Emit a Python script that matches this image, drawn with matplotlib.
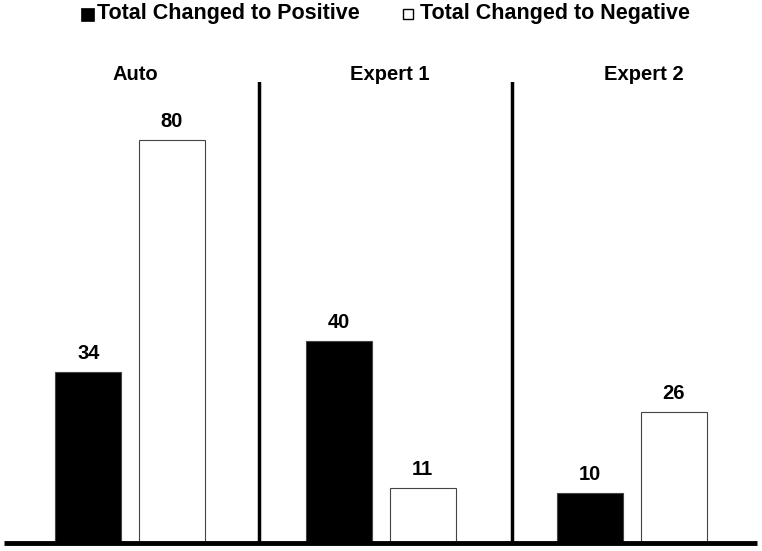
import matplotlib
matplotlib.use("Agg")
import matplotlib.pyplot as plt
from matplotlib.patches import Rectangle
import numpy as np

groups = ["Auto", "Expert 1", "Expert 2"]
positive = [34, 40, 10]
negative = [80, 11, 26]
series_names = ["Total Changed to Positive", "Total Changed to Negative"]

plt.rcParams['font.family'] = ['Liberation Sans', 'DejaVu Sans']

W, H = 762, 551
fig = plt.figure(figsize=(W / 100, H / 100), dpi=100)
ax_bottom = 8 / H
ax_top = 82 / H
ax = fig.add_axes([0, ax_bottom, 1, 1 - ax_bottom - ax_top])
ax.set_xlim(-0.518, 2.518)
ax.set_ylim(0, 91.5)
ax.axis('off')

x = np.arange(len(groups))
bw = 0.263
off = 0.166
ax.bar(x - off, positive, bw, color='black', edgecolor='#444444', linewidth=0.8)
ax.bar(x + off, negative, bw, color='white', edgecolor='#444444', linewidth=0.8)

for xi, v in zip(x - off, positive):
    ax.text(xi, v + 1.8, str(v), ha='center', va='bottom', fontsize=14.5, fontweight='bold')
for xi, v in zip(x + off, negative):
    ax.text(xi, v + 1.8, str(v), ha='center', va='bottom', fontsize=14.5, fontweight='bold')

# separators
for s in [0.515, 1.52]:
    ax.axvline(s, ymin=0, ymax=1, color='black', linewidth=2.5)

# baseline
ax.plot([-0.502, 2.498], [0, 0], color='black', linewidth=3.5, solid_capstyle='butt', clip_on=False)

# group titles
for xi, g in zip(x, groups):
    fig.text((135 + 254.5 * xi) / W, 1 - 74 / H, g, ha='center', va='center',
             fontsize=14.5, fontweight='bold')

# legend
fig.patches.append(Rectangle((81 / W, 1 - 21 / H), 13 / W, 13 / H, transform=fig.transFigure,
                             facecolor='black', edgecolor='black', linewidth=0.5))
fig.patches.append(Rectangle((403 / W, 1 - 19 / H), 10 / W, 10 / H, transform=fig.transFigure,
                             facecolor='white', edgecolor='black', linewidth=1.0))
fig.text(97 / W, 1 - 14 / H, series_names[0], ha='left', va='center',
         fontsize=15.5, fontweight='bold')
fig.text(420 / W, 1 - 14 / H, series_names[1], ha='left', va='center',
         fontsize=15.5, fontweight='bold')

fig.savefig("out.png", dpi=100)
